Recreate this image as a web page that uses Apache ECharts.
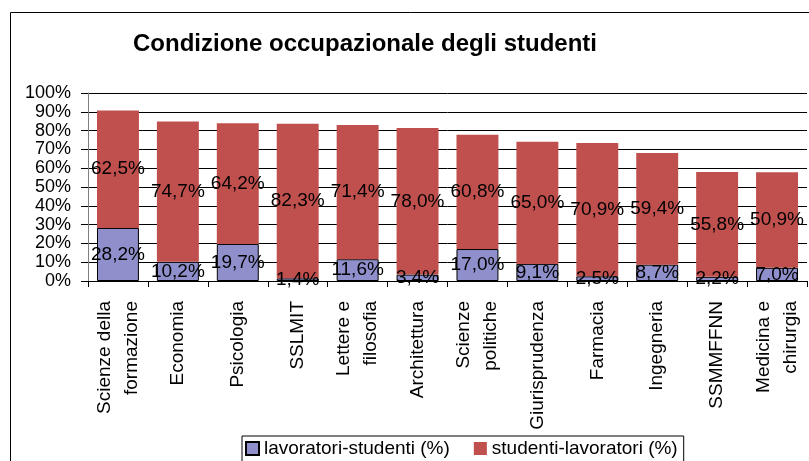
<!DOCTYPE html>
<html>
<head>
<meta charset="utf-8">
<script src="https://cdn.jsdelivr.net/npm/echarts@6/dist/echarts.min.js"></script>
<style>
html,body{margin:0;padding:0;background:#fff;}
#chart{width:809px;height:461px;}
</style>
</head>
<body>
<div id="chart"></div>
<script>
const categories = ['Scienze della\nformazione','Economia','Psicologia','SSLMIT','Lettere e\nfilosofia','Architettura','Scienze\npolitiche','Giurisprudenza','Farmacia','Ingegneria','SSMMFFNN','Medicina e\nchirurgia'];
const lavoratoriStudenti = [28.2, 10.2, 19.7, 1.4, 11.6, 3.4, 17.0, 9.1, 2.5, 8.7, 2.2, 7.0];
const studentiLavoratori = [62.5, 74.7, 64.2, 82.3, 71.4, 78.0, 60.8, 65.0, 70.9, 59.4, 55.8, 50.9];
const seriesNames = ['lavoratori-studenti (%)', 'studenti-lavoratori (%)'];
const titleText = 'Condizione occupazionale degli studenti';

const FONT = '"Liberation Sans", Arial, sans-serif';
const FS = 19;
const fmt = p => p.value.toFixed(1).replace('.', ',') + '%';

const chart = echarts.init(document.getElementById('chart'));
chart.setOption({
  animation: false,
  backgroundColor: '#fff',
  textStyle: { fontFamily: FONT },
  graphic: [{
    type: 'rect', left: 8, top: 10, z: -10,
    shape: { width: 900, height: 600 },
    style: { fill: 'none', stroke: '#000', lineWidth: 1 }
  }],
  title: {
    text: titleText, left: 128, top: 27,
    textStyle: { fontFamily: FONT, fontSize: 24, fontWeight: 'bold', color: '#000' }
  },
  legend: {
    left: 242, top: 436,
    itemWidth: 13, itemHeight: 13, itemGap: 24,
    padding: [3, 6, 10, 3],
    borderColor: '#000', borderWidth: 1,
    icon: 'rect',
    textStyle: { fontFamily: FONT, fontSize: FS, color: '#000' },
    data: seriesNames
  },
  grid: { left: 88, right: 2, top: 93, bottom: 180, containLabel: false },
  xAxis: {
    type: 'category', data: categories,
    axisLine: { lineStyle: { color: '#000', width: 1 } },
    axisTick: { show: true, length: 6, lineStyle: { color: '#000' }, alignWithLabel: false },
    axisLabel: { rotate: 90, margin: 20, fontSize: FS, lineHeight: 27, color: '#000', fontFamily: FONT, interval: 0 }
  },
  yAxis: {
    type: 'value', min: 0, max: 100, interval: 10,
    axisLine: { show: true, lineStyle: { color: '#808080', width: 1 } },
    axisTick: { show: true, length: 7, lineStyle: { color: '#000' } },
    splitLine: { show: true, lineStyle: { color: '#000', width: 1 } },
    axisLabel: { formatter: '{value}%', fontSize: 18, color: '#000', margin: 17, fontFamily: FONT }
  },
  series: [
    {
      name: seriesNames[0], type: 'bar', stack: 'tot', data: lavoratoriStudenti,
      barWidth: '70%',
      itemStyle: { color: '#8f8fcb', borderColor: '#000', borderWidth: 1 },
      label: { show: true, position: 'inside', formatter: fmt, fontSize: FS, color: '#000', fontFamily: FONT }
    },
    {
      name: seriesNames[1], type: 'bar', stack: 'tot', data: studentiLavoratori,
      barWidth: '70%',
      itemStyle: { color: '#c0504d' },
      label: { show: true, position: 'inside', formatter: fmt, fontSize: FS, color: '#000', fontFamily: FONT }
    }
  ]
});
</script>
</body>
</html>
